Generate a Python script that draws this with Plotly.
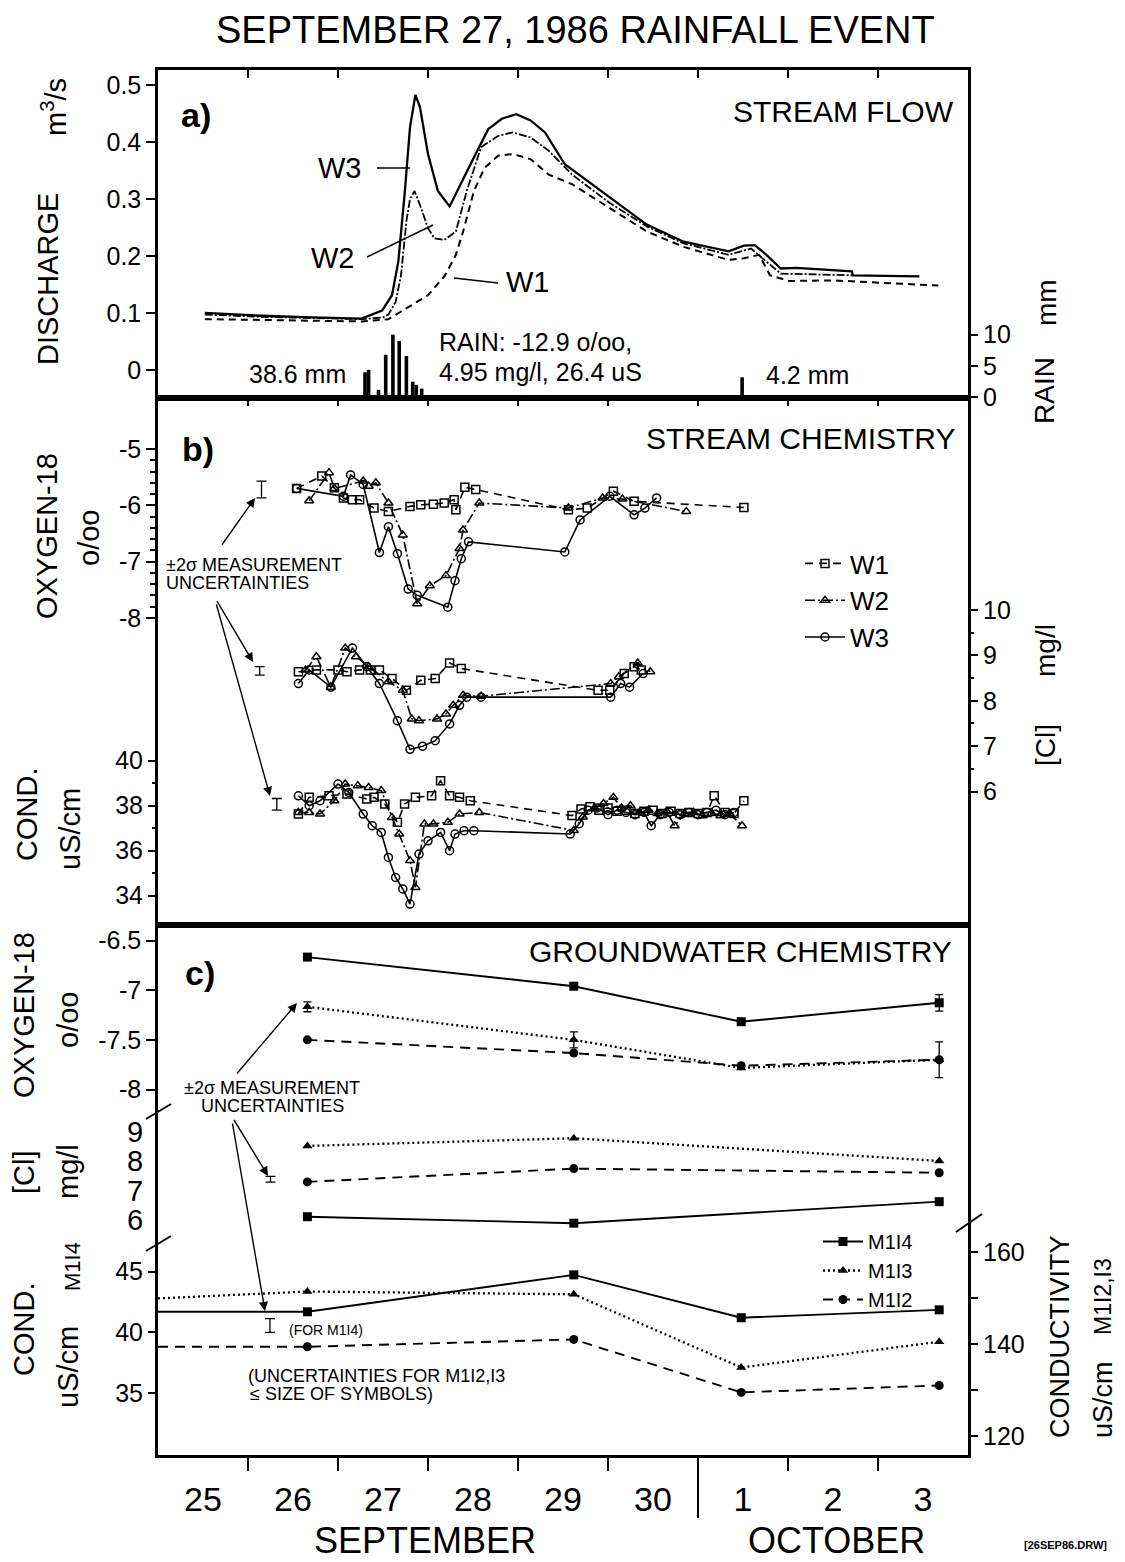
import plotly.graph_objects as go

FONT = "Liberation Sans, Arial, Helvetica, sans-serif"

# ---------------- x axis (days since 25 Sep 1986 00:00) ----------------
day_tick_vals = [1, 2, 3, 4, 5, 6, 7, 8]
day_label_pos = [0.5, 1.5, 2.5, 3.5, 4.5, 5.5, 6.5, 7.5, 8.5]
day_labels = ["25", "26", "27", "28", "29", "30", "1", "2", "3"]
month_boundary_day = 6

# ---------------- panel a: stream discharge (m3/s) ----------------
q_w1_day = [0.52, 1.15, 1.71, 2.26, 2.56, 2.75, 3.00, 3.19, 3.31, 3.39, 3.51, 3.63, 3.78, 3.94, 4.14, 4.34,
            4.60, 5.02, 5.43, 5.84, 6.34, 6.51, 6.68, 6.80, 7.01, 7.51, 8.67]
q_w1 = [0.089, 0.088, 0.086, 0.085, 0.089, 0.107, 0.131, 0.166, 0.202, 0.243, 0.314, 0.355, 0.376, 0.379, 0.370,
        0.343, 0.326, 0.284, 0.243, 0.216, 0.193, 0.196, 0.202, 0.166, 0.156, 0.157, 0.148]
q_w2_day = [0.52, 1.15, 1.71, 2.26, 2.50, 2.56, 2.64, 2.70, 2.76, 2.80, 2.85, 2.91, 3.00, 3.07, 3.18, 3.31, 3.43,
            3.59, 3.78, 3.94, 4.14, 4.34, 4.60, 5.02, 5.43, 5.84, 6.34, 6.59, 6.76, 6.92, 7.71]
q_w2 = [0.097, 0.093, 0.091, 0.089, 0.092, 0.097, 0.119, 0.166, 0.261, 0.300, 0.314, 0.290, 0.249, 0.231, 0.228,
        0.243, 0.314, 0.391, 0.411, 0.417, 0.408, 0.385, 0.343, 0.293, 0.252, 0.222, 0.202, 0.213, 0.190, 0.169, 0.166]
q_w3_day = [0.52, 1.15, 1.71, 2.26, 2.49, 2.60, 2.67, 2.74, 2.80, 2.86, 2.91, 3.00, 3.11, 3.24, 3.51, 3.67, 3.82,
            3.98, 4.14, 4.30, 4.52, 5.02, 5.43, 5.84, 6.34, 6.51, 6.63, 6.76, 6.92, 7.09, 7.71, 7.72, 8.46]
q_w3 = [0.100, 0.095, 0.092, 0.090, 0.104, 0.131, 0.190, 0.308, 0.426, 0.483, 0.462, 0.379, 0.314, 0.287, 0.373,
        0.423, 0.441, 0.449, 0.438, 0.417, 0.361, 0.302, 0.255, 0.225, 0.208, 0.218, 0.219, 0.202, 0.178, 0.179,
        0.173, 0.166, 0.164]
rain_day = [2.30, 2.34, 2.45, 2.53, 2.61, 2.68, 2.76, 2.83, 2.87, 2.93, 6.49]
rain_mm = [4.0, 4.4, 1.2, 6.8, 10.0, 9.0, 6.6, 2.5, 2.0, 1.4, 3.2]

# ---------------- panel b: stream chemistry ----------------
o18_w1_day = [1.54, 1.82, 1.96, 2.06, 2.16, 2.24, 2.40, 2.56, 2.80, 2.92, 3.06, 3.18, 3.29, 3.31, 3.41, 3.53,
              4.56, 4.77, 5.06, 5.29, 6.51]
o18_w1 = [-5.70, -5.48, -5.69, -5.87, -5.90, -5.90, -6.05, -6.11, -6.02, -5.99, -5.98, -5.96, -5.90, -6.08, -5.68,
          -5.72, -6.08, -6.05, -5.75, -5.93, -6.04]
o18_w2_day = [1.68, 1.90, 1.96, 2.28, 2.34, 2.42, 2.56, 2.72, 2.88, 3.02, 3.20, 3.35, 3.39, 3.57, 4.56, 4.94,
              5.16, 5.87]
o18_w2 = [-5.92, -5.42, -5.70, -5.57, -5.66, -5.60, -5.96, -6.53, -7.75, -7.43, -7.25, -6.77, -6.44, -5.96, -6.05,
          -5.87, -5.89, -6.11]
o18_w3_day = [1.54, 2.06, 2.14, 2.28, 2.46, 2.56, 2.66, 2.78, 2.88, 3.22, 3.30, 3.37, 3.45, 4.52, 4.69, 5.02,
              5.29, 5.41, 5.54]
o18_w3 = [-5.70, -5.84, -5.46, -5.63, -6.84, -6.38, -6.86, -7.49, -7.60, -7.81, -7.34, -6.95, -6.65, -6.83, -6.26,
          -5.84, -6.17, -6.05, -5.87]

cl_w1_day = [1.56, 1.76, 2.00, 2.10, 2.24, 2.36, 2.46, 2.60, 2.76, 2.92, 3.08, 3.24, 3.37, 4.89, 5.02, 5.18, 5.29, 5.37]
cl_w1 = [8.64, 8.68, 8.68, 8.64, 8.68, 8.68, 8.68, 8.49, 8.23, 8.45, 8.49, 8.83, 8.71, 8.23, 8.23, 8.60, 8.75, 8.68]
cl_w2_day = [1.64, 1.76, 1.92, 2.08, 2.20, 2.34, 2.56, 2.72, 2.82, 2.90, 3.10, 3.20, 3.28, 3.39, 3.59, 5.03, 5.12,
             5.33, 5.47]
cl_w2 = [8.68, 8.97, 8.30, 9.16, 8.97, 8.75, 8.42, 8.23, 7.60, 7.56, 7.60, 7.71, 7.90, 8.12, 8.10, 8.38, 8.53, 8.83, 8.64]
cl_w3_day = [1.56, 1.68, 1.92, 2.16, 2.32, 2.46, 2.66, 2.80, 2.94, 3.08, 3.24, 3.35, 3.43, 3.59, 5.03, 5.14, 5.24, 5.39]
cl_w3 = [8.38, 8.68, 8.30, 9.16, 8.75, 8.38, 7.56, 6.93, 7.00, 7.12, 7.49, 7.90, 8.08, 8.08, 8.08, 8.38, 8.30, 8.60]

cond_w1_day = [1.56, 1.68, 1.90, 2.10, 2.32, 2.40, 2.52, 2.66, 2.74, 2.86, 3.04, 3.14, 3.24, 3.35, 3.47, 4.60, 4.70,
               4.80, 4.90, 5.00, 5.10, 5.20, 5.30, 5.40, 5.50, 5.60, 5.70, 5.80, 5.90, 6.00, 6.10, 6.18, 6.30, 6.40, 6.51]
cond_w1 = [37.63, 38.37, 38.44, 38.52, 38.30, 38.37, 38.07, 37.26, 38.07, 38.37, 38.44, 39.11, 38.44, 38.37, 38.22,
           37.56, 37.85, 37.95, 37.80, 37.90, 37.75, 37.80, 37.65, 37.75, 37.80, 37.65, 37.75, 37.65, 37.70, 37.65,
           37.70, 38.44, 37.70, 37.65, 38.22]
cond_w2_day = [1.56, 1.68, 1.80, 1.96, 2.08, 2.22, 2.34, 2.48, 2.60, 2.68, 2.80, 2.86, 2.96, 3.06, 3.22, 3.35, 3.57,
               4.62, 4.72, 4.85, 4.95, 5.06, 5.15, 5.25, 5.35, 5.45, 5.55, 5.65, 5.74, 5.85, 5.95, 6.05, 6.15, 6.25,
               6.35, 6.49]
cond_w2 = [37.70, 37.70, 37.63, 38.22, 38.96, 38.89, 38.81, 38.67, 37.48, 36.74, 35.56, 34.37, 37.19, 37.19, 37.26,
           37.63, 37.70, 36.90, 37.50, 37.90, 38.10, 38.37, 37.90, 38.00, 37.70, 37.80, 37.65, 37.75, 37.11, 37.65,
           37.70, 37.55, 37.65, 37.55, 37.65, 37.11]
cond_w3_day = [1.56, 1.68, 1.80, 2.00, 2.12, 2.28, 2.38, 2.48, 2.56, 2.64, 2.72, 2.80, 2.90, 3.00, 3.14, 3.24, 3.30,
               3.40, 3.51, 4.58, 4.68, 4.78, 4.88, 5.00, 5.10, 5.20, 5.30, 5.40, 5.48, 5.58, 5.68, 5.80, 5.90, 6.00,
               6.10, 6.20, 6.30, 6.40]
cond_w3 = [38.44, 38.00, 38.22, 38.96, 38.59, 37.63, 37.11, 36.81, 35.70, 34.81, 34.30, 33.63, 35.85, 36.44, 36.81,
           36.00, 36.74, 36.89, 36.89, 36.74, 37.20, 37.80, 37.90, 37.60, 37.80, 37.70, 37.60, 37.70, 37.11, 37.60,
           37.70, 37.60, 37.70, 37.60, 37.70, 37.80, 37.60, 37.70]

# +-2 sigma uncertainty indicators, panel b (O-18, Cl, Cond)
unc_b_day = [1.15, 1.13, 1.32]
unc_b_val = [-5.72, 8.66, 38.06]
unc_b_err = [0.15, 0.093, 0.26]

# ---------------- panel c: groundwater chemistry ----------------
gw_day = [1.66, 4.62, 6.48, 8.68]
gw_o18_m14 = [-6.667, -6.96, -7.317, -7.127]
gw_o18_m13 = [-7.167, -7.50, -7.783, -7.70]
gw_o18_m12 = [-7.50, -7.633, -7.76, -7.70]
gw_o18_err_m14 = [0, 0, 0, 0.083]
gw_o18_err_m13 = [0.05, 0.08, 0, 0.18]

gw_cl_day = [1.66, 4.62, 8.68]
gw_cl_m14 = [6.11, 5.89, 6.62]
gw_cl_m13 = [8.51, 8.77, 8.00]
gw_cl_m12 = [7.29, 7.74, 7.60]

gw_cond_day = [0.0, 1.66, 4.62, 6.48, 8.68]   # first entry: record continuing from before the plot start
gw_cond_m14 = [41.69, 41.69, 44.73, 41.20, 41.85]
gw_cond_m13 = [149.9, 151.4, 150.8, 134.9, 140.5]
gw_cond_m12 = [139.4, 139.4, 141.0, 129.5, 131.0]

unc_c_cl = dict(day=[1.25], val=[7.38], err=[0.10])
unc_c_cond = dict(day=[1.244], val=[40.56], err=[0.56])

# ---------------- geometry helpers (for text / decorations only) ----------------
W, H = 1125, 1562
PL, PR, PT, PB = 158, 968, 70, 1455


def fx(xp):
    return (xp - PL) / (PR - PL)


def fy(yp):
    return (PB - yp) / (PB - PT)


dom_a = [fy(398), 1.0]
dom_b = [fy(925), fy(398)]
dom_c = [0.0, fy(925)]

fig = go.Figure()

# ---- panel a traces ----
fig.add_trace(go.Bar(x=rain_day, y=rain_mm, xaxis="x3", yaxis="y2", width=0.04,
                     marker=dict(color="black", line=dict(width=0)), showlegend=False))
fig.add_trace(go.Scatter(x=q_w1_day, y=q_w1, xaxis="x3", yaxis="y", mode="lines",
                         line=dict(color="black", width=2.0, dash="7px,5px"), showlegend=False))
fig.add_trace(go.Scatter(x=q_w2_day, y=q_w2, xaxis="x3", yaxis="y", mode="lines",
                         line=dict(color="black", width=1.8, dash="8px,2px,2px,2px"), showlegend=False))
fig.add_trace(go.Scatter(x=q_w3_day, y=q_w3, xaxis="x3", yaxis="y", mode="lines",
                         line=dict(color="black", width=2.3), showlegend=False))

# ---- panel b traces ----
stream_styles = {
    "W1": dict(symbol="square-open", dash="8px,6px"),
    "W2": dict(symbol="triangle-up-open", dash="10px,3px,2px,3px"),
    "W3": dict(symbol="circle-open", dash="solid"),
}
stream_sets = [
    ("W1", o18_w1_day, o18_w1, cl_w1_day, cl_w1, cond_w1_day, cond_w1),
    ("W2", o18_w2_day, o18_w2, cl_w2_day, cl_w2, cond_w2_day, cond_w2),
    ("W3", o18_w3_day, o18_w3, cl_w3_day, cl_w3, cond_w3_day, cond_w3),
]
for name, od, ov, cd, cv, kd, kv in stream_sets:
    st = stream_styles[name]
    mk = dict(symbol=st["symbol"], size=8, color="black", line=dict(color="black", width=1.5))
    ln = dict(color="black", width=1.6, dash=st["dash"])
    fig.add_trace(go.Scatter(x=od, y=ov, xaxis="x2", yaxis="y3", mode="lines+markers", name=name,
                             marker=mk, line=ln, showlegend=True, legend="legend"))
    fig.add_trace(go.Scatter(x=cd, y=cv, xaxis="x2", yaxis="y4", mode="lines+markers",
                             marker=mk, line=ln, showlegend=False))
    fig.add_trace(go.Scatter(x=kd, y=kv, xaxis="x2", yaxis="y5", mode="lines+markers",
                             marker=mk, line=ln, showlegend=False))

unc_axes_b = ["y3", "y4", "y5"]
for d, v, e, ya in zip(unc_b_day, unc_b_val, unc_b_err, unc_axes_b):
    fig.add_trace(go.Scatter(x=[d], y=[v], xaxis="x2", yaxis=ya, mode="markers",
                             marker=dict(size=1, color="rgba(0,0,0,0)"),
                             error_y=dict(type="data", array=[e], color="black", thickness=1.3, width=5),
                             showlegend=False, hoverinfo="skip"))

# ---- panel c traces ----
gw_styles = {
    "M1I4": dict(symbol="square", dash="solid", width=1.9),
    "M1I3": dict(symbol="triangle-up", dash="2px,3px", width=2.3),
    "M1I2": dict(symbol="circle", dash="10px,7px", width=1.9),
}
gw_sets = [
    ("M1I4", gw_o18_m14, gw_cl_m14, gw_cond_m14, "y8"),
    ("M1I3", gw_o18_m13, gw_cl_m13, gw_cond_m13, "y9"),
    ("M1I2", gw_o18_m12, gw_cl_m12, gw_cond_m12, "y9"),
]
for name, o, c, k, kax in gw_sets:
    st = gw_styles[name]
    mk = dict(symbol=st["symbol"], size=9, color="black")
    ln = dict(color="black", width=st["width"], dash=st["dash"])
    fig.add_trace(go.Scatter(x=gw_day, y=o, xaxis="x", yaxis="y6", mode="lines+markers", name=name,
                             marker=mk, line=ln, showlegend=True, legend="legend2"))
    fig.add_trace(go.Scatter(x=gw_cl_day, y=c, xaxis="x", yaxis="y7", mode="lines+markers",
                             marker=mk, line=ln, showlegend=False))
    # conductivity: line includes the record running in from the left edge; markers only on samples
    fig.add_trace(go.Scatter(x=gw_cond_day, y=k, xaxis="x", yaxis=kax, mode="lines",
                             line=ln, showlegend=False))
    fig.add_trace(go.Scatter(x=gw_cond_day[1:], y=k[1:], xaxis="x", yaxis=kax, mode="markers",
                             marker=mk, showlegend=False))

for vals, errs in [(gw_o18_m14, gw_o18_err_m14), (gw_o18_m13, gw_o18_err_m13)]:
    xs = [d for d, e in zip(gw_day, errs) if e > 0]
    ys = [v for v, e in zip(vals, errs) if e > 0]
    es = [e for e in errs if e > 0]
    fig.add_trace(go.Scatter(x=xs, y=ys, xaxis="x", yaxis="y6", mode="markers",
                             marker=dict(size=1, color="rgba(0,0,0,0)"),
                             error_y=dict(type="data", array=es, color="black", thickness=1.3, width=4),
                             showlegend=False, hoverinfo="skip"))
for u, ya in [(unc_c_cl, "y7"), (unc_c_cond, "y8")]:
    fig.add_trace(go.Scatter(x=u["day"], y=u["val"], xaxis="x", yaxis=ya, mode="markers",
                             marker=dict(size=1, color="rgba(0,0,0,0)"),
                             error_y=dict(type="data", array=u["err"], color="black", thickness=1.3, width=5),
                             showlegend=False, hoverinfo="skip"))

# ---------------- axes ----------------
TF = dict(family=FONT, size=25, color="black")
base_x = dict(range=[0, 9], showgrid=False, zeroline=False, fixedrange=True)
top_ticks = dict(tickmode="array", tickvals=day_tick_vals, ticks="inside", ticklen=8, tickwidth=2,
                 tickcolor="black", showticklabels=False, side="top")
line_kw = dict(showline=True, linecolor="black", linewidth=2.5, mirror=True)
ytick = dict(ticks="outside", ticklen=9, tickwidth=2, tickcolor="black", tickfont=TF,
             showgrid=False, zeroline=False, tickmode="array")


def lab(vals, fmt="{:g}"):
    return [fmt.format(v) for v in vals]


o18b_ticks = [-5, -6, -7, -8]
o18b_minor = [-5.2, -5.4, -5.6, -5.8, -6.2, -6.4, -6.6, -6.8, -7.2, -7.4, -7.6, -7.8]
o18c_ticks = [-6.5, -7, -7.5, -8]

fig.update_layout(
    width=W, height=H,
    margin=dict(l=PL, r=W - PR, t=PT, b=H - PB, pad=0),
    paper_bgcolor="white", plot_bgcolor="white",
    font=dict(family=FONT, color="black"),
    barmode="overlay",
    xaxis=dict(**base_x, domain=[0, 1], anchor="y6", tickmode="array", tickvals=day_label_pos,
               ticktext=day_labels, ticks="outside", ticklen=12, tickcolor="rgba(0,0,0,0)",
               tickfont=dict(family=FONT, size=34, color="black"),
               minor=dict(tickmode="array", tickvals=day_tick_vals, ticks="outside", ticklen=13,
                          tickwidth=2, tickcolor="black"), **line_kw),
    xaxis4=dict(**base_x, overlaying="x", anchor="y6", **top_ticks, showline=False),
    xaxis2=dict(**base_x, domain=[0, 1], anchor="y3", **top_ticks, **line_kw),
    xaxis3=dict(**base_x, domain=[0, 1], anchor="y", **top_ticks, **line_kw),
    # panel a
    yaxis=dict(**ytick, domain=dom_a, anchor="x3", range=[-0.0495, 0.5266],
               tickvals=[0, 0.1, 0.2, 0.3, 0.4, 0.5], ticktext=["0", "0.1", "0.2", "0.3", "0.4", "0.5"], **line_kw),
    yaxis2=dict(**ytick, overlaying="y", anchor="x3", side="right", range=[-0.1, 52.2],
                tickvals=[0, 5, 10], ticktext=["0", "5", "10"], showline=False),
    # panel b
    yaxis3=dict(**ytick, domain=dom_b, anchor="x2", range=[-13.458, -4.094], tickvals=o18b_ticks,
                ticktext=lab(o18b_ticks),
                minor=dict(tickmode="array", tickvals=o18b_minor, ticks="outside", ticklen=5, tickwidth=1.5,
                           tickcolor="black"), **line_kw),
    yaxis4=dict(**ytick, overlaying="y3", anchor="x2", side="right", range=[3.06, 14.67],
                tickvals=[6, 7, 8, 9, 10], ticktext=lab([6, 7, 8, 9, 10]),
                minor=dict(tickmode="array", tickvals=[6.5, 7.5, 8.5, 9.5], ticks="outside", ticklen=5,
                           tickwidth=1.5, tickcolor="black"), showline=False),
    yaxis5=dict(**ytick, overlaying="y3", anchor="x2", side="left", range=[32.70, 56.11],
                tickvals=[34, 36, 38, 40], ticktext=lab([34, 36, 38, 40]),
                minor=dict(tickmode="array", tickvals=[35, 37, 39], ticks="outside", ticklen=5,
                           tickwidth=1.5, tickcolor="black"), showline=False),
    # panel c
    yaxis6=dict(**ytick, domain=dom_c, anchor="x", range=[-11.678, -6.344], tickvals=o18c_ticks,
                ticktext=lab(o18c_ticks), **line_kw),
    yaxis7=dict(ticks="outside", ticklen=8, tickcolor="rgba(0,0,0,0)",
                tickfont=dict(family=FONT, size=29, color="black"), showgrid=False, zeroline=False,
                tickmode="array", overlaying="y6", anchor="x", side="left", range=[-1.97, 16.0],
                tickvals=[6, 7, 8, 9], ticktext=lab([6, 7, 8, 9]), showline=False),
    yaxis8=dict(**ytick, overlaying="y6", anchor="x", side="left", range=[29.9, 73.53],
                tickvals=[35, 40, 45], ticktext=lab([35, 40, 45]), showline=False),
    yaxis9=dict(**ytick, overlaying="y6", anchor="x", side="right", range=[115.9, 231.0],
                tickvals=[120, 140, 160], ticktext=lab([120, 140, 160]),
                minor=dict(tickmode="array", tickvals=[130, 150], ticks="outside", ticklen=9,
                           tickwidth=2, tickcolor="black"), showline=False),
    legend=dict(x=fx(800), y=fy(540), xanchor="left", yanchor="top", bgcolor="rgba(0,0,0,0)",
                font=dict(family=FONT, size=26, color="black"), tracegroupgap=0, itemwidth=40),
    legend2=dict(x=fx(818), y=fy(1222), xanchor="left", yanchor="top", bgcolor="rgba(0,0,0,0)",
                 font=dict(family=FONT, size=20, color="black"), tracegroupgap=0, itemwidth=40),
)


# ---------------- text ----------------
def txt(text, xp, yp, size, anchor="center", angle=0, bold=False):
    return dict(text=f"<b>{text}</b>" if bold else text, x=fx(xp), y=fy(yp), xref="paper", yref="paper",
                xanchor=anchor, yanchor="middle", showarrow=False, textangle=angle,
                font=dict(size=size, family=FONT, color="black"))


def arrow(tip, tail):
    return dict(x=fx(tip[0]), y=fy(tip[1]), xref="paper", yref="paper", ax=tail[0] - tip[0],
                ay=tail[1] - tip[1], axref="pixel", ayref="pixel", showarrow=True, arrowhead=2,
                arrowsize=1.3, arrowwidth=1.4, arrowcolor="black", text=" ")


anns = [
    txt("SEPTEMBER 27, 1986 RAINFALL EVENT", 575, 30, 38),
    txt("a)", 196, 115, 34, bold=True),
    txt("b)", 198, 449, 34, bold=True),
    txt("c)", 200, 973, 34, bold=True),
    txt("STREAM FLOW", 956, 112, 30, anchor="right"),
    txt("STREAM CHEMISTRY", 957, 438, 30, anchor="right"),
    txt("GROUNDWATER CHEMISTRY", 954, 952, 30, anchor="right"),
    txt("W3", 340, 168, 29), txt("W2", 333, 258, 29), txt("W1", 528, 282, 29),
    txt("38.6 mm", 297, 374, 25),
    txt("RAIN: -12.9 o/oo,", 437, 342, 25, anchor="left"),
    txt("4.95 mg/l, 26.4 uS", 437, 372, 25, anchor="left"),
    txt("4.2 mm", 764, 375, 25, anchor="left"),
    # left axis titles
    txt("m<sup>3</sup>/s", 54, 107, 29, angle=-90),
    txt("DISCHARGE", 48, 279, 29, angle=-90),
    txt("OXYGEN-18", 47, 536, 29, angle=-90),
    txt("o/oo", 89, 538, 29, angle=-90),
    txt("COND.", 27, 815, 29, angle=-90),
    txt("uS/cm", 70, 829, 29, angle=-90),
    txt("OXYGEN-18", 24, 1015, 29, angle=-90),
    txt("o/oo", 68, 1020, 29, angle=-90),
    txt("[Cl]", 24, 1172, 29, angle=-90),
    txt("mg/l", 68, 1172, 29, angle=-90),
    txt("COND.", 24, 1330, 29, angle=-90),
    txt("M1I4", 72, 1267, 22, angle=-90),
    txt("uS/cm", 68, 1367, 29, angle=-90),
    # right axis titles
    txt("mm", 1047, 303, 28, angle=-90),
    txt("RAIN", 1045, 391, 28, angle=-90),
    txt("mg/l", 1045, 651, 28, angle=-90),
    txt("[Cl]", 1045, 745, 28, angle=-90),
    txt("CONDUCTIVITY", 1060, 1337, 27, angle=-90),
    txt("M1I2,I3", 1103, 1297, 23, angle=-90),
    txt("uS/cm", 1103, 1400, 27, angle=-90),
    # uncertainty notes
    txt("±2σ MEASUREMENT", 164, 565, 18, anchor="left"),
    txt("UNCERTAINTIES", 164, 583, 18, anchor="left"),
    arrow((255, 498), (219, 549)),
    arrow((253, 662), (214, 596)),
    arrow((270, 796), (214, 596)),
    txt("±2σ MEASUREMENT", 272, 1088, 18),
    txt("UNCERTAINTIES", 272, 1106, 18),
    arrow((297, 1003), (234, 1077)),
    arrow((268, 1176), (231, 1115)),
    arrow((265, 1311), (231, 1115)),
    txt("(FOR M1I4)", 287, 1330, 14, anchor="left"),
    txt("(UNCERTAINTIES FOR M1I2,I3", 246, 1376, 18, anchor="left"),
    txt("≤ SIZE OF SYMBOLS)", 248, 1394, 18, anchor="left"),
    # bottom
    txt("SEPTEMBER", 425, 1540, 36),
    txt("OCTOBER", 836, 1540, 36),
    txt("[26SEP86.DRW]", 1065, 1545, 11, bold=True),
]
fig.update_layout(annotations=anns)


# ---------------- decorations ----------------
def seg(p0, p1, w=1.5):
    return dict(type="line", xref="paper", yref="paper", x0=fx(p0[0]), y0=fy(p0[1]), x1=fx(p1[0]),
                y1=fy(p1[1]), line=dict(color="black", width=w))


shapes = [
    seg((377, 168), (410, 168)),
    seg((367, 257), (433, 225)),
    seg((454, 278), (498, 283)),
    # axis break marks on panel c spines
    seg((146, 1119), (171, 1104), 2),
    seg((146, 1251), (171, 1236), 2),
    seg((956, 1232), (982, 1214), 2),
    # month separator below the axis at 1 October
    dict(type="line", xref="x", yref="paper", x0=month_boundary_day, x1=month_boundary_day,
         y0=0, y1=fy(1518), line=dict(color="black", width=2)),
]
fig.update_layout(shapes=shapes)

fig.write_html("out.html", config={"displayModeBar": False},
               post_script="document.body.style.margin='0px';document.body.style.overflow='hidden';")
